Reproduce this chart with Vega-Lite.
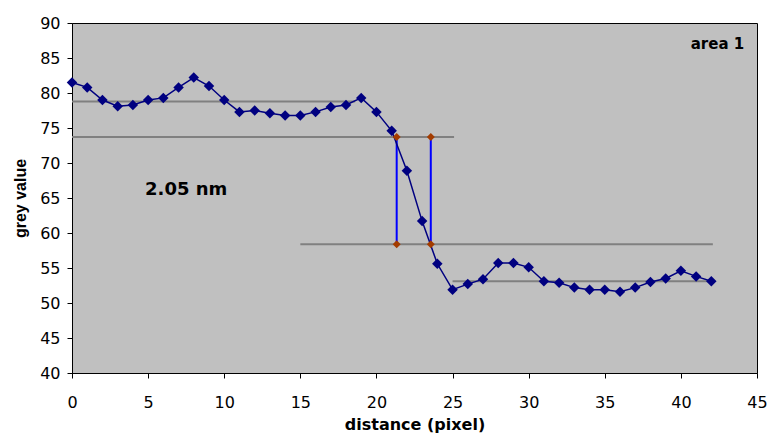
{
  "$schema": "https://vega.github.io/schema/vega-lite/v6.json",
  "width": 685,
  "height": 350,
  "autosize": "none",
  "padding": {"left": 72, "top": 23, "right": 13, "bottom": 64},
  "background": "#FFFFFF",
  "config": {
    "font": "DejaVu Sans",
    "view": {"stroke": "#000000", "strokeWidth": 1, "fill": "#C0C0C0"},
    "axis": {"grid": false, "domainColor": "#000000", "tickColor": "#000000", "labelColor": "#000000", "titleColor": "#000000", "labelFont": "DejaVu Sans", "titleFont": "DejaVu Sans", "labelFontSize": 16, "titleFontSize": 16, "titleFontWeight": "bold", "tickSize": 5, "labelOverlap": false, "labelFlush": false}
  },
  "datasets": {
    "profile": [
      {"x": 0, "y": 81.5}, {"x": 1, "y": 80.8}, {"x": 2, "y": 79.0}, {"x": 3, "y": 78.1},
      {"x": 4, "y": 78.3}, {"x": 5, "y": 79.0}, {"x": 6, "y": 79.3}, {"x": 7, "y": 80.8},
      {"x": 8, "y": 82.2}, {"x": 9, "y": 81.0}, {"x": 10, "y": 79.0}, {"x": 11, "y": 77.3},
      {"x": 12, "y": 77.5}, {"x": 13, "y": 77.1}, {"x": 14, "y": 76.8}, {"x": 15, "y": 76.8},
      {"x": 16, "y": 77.3}, {"x": 17, "y": 78.0}, {"x": 18, "y": 78.3}, {"x": 19, "y": 79.3},
      {"x": 20, "y": 77.3}, {"x": 21, "y": 74.6}, {"x": 22, "y": 68.9}, {"x": 23, "y": 61.7},
      {"x": 24, "y": 55.6}, {"x": 25, "y": 51.9}, {"x": 26, "y": 52.7}, {"x": 27, "y": 53.4},
      {"x": 28, "y": 55.7}, {"x": 29, "y": 55.7}, {"x": 30, "y": 55.1}, {"x": 31, "y": 53.1},
      {"x": 32, "y": 52.9}, {"x": 33, "y": 52.2}, {"x": 34, "y": 51.9}, {"x": 35, "y": 51.9},
      {"x": 36, "y": 51.6}, {"x": 37, "y": 52.2}, {"x": 38, "y": 53.0}, {"x": 39, "y": 53.5},
      {"x": 40, "y": 54.6}, {"x": 41, "y": 53.8}, {"x": 42, "y": 53.1}
    ],
    "levels": [
      {"x": 0, "x2": 18.6, "y": 78.8},
      {"x": 0, "x2": 25.1, "y": 73.7},
      {"x": 15, "x2": 42.1, "y": 58.4},
      {"x": 25, "x2": 42, "y": 53.1}
    ],
    "verticals": [
      {"x": 21.33, "y": 58.4, "y2": 73.7},
      {"x": 23.57, "y": 58.4, "y2": 73.7}
    ],
    "corners": [
      {"x": 21.33, "y": 73.7}, {"x": 23.57, "y": 73.7},
      {"x": 21.33, "y": 58.4}, {"x": 23.57, "y": 58.4}
    ],
    "labels": [
      {"x": 7.5, "y": 66.2, "t": "2.05 nm", "s": 18},
      {"x": 42.4, "y": 87.0, "t": "area 1", "s": 15}
    ]
  },
  "encoding": {
    "x": {"field": "x", "type": "quantitative", "scale": {"domain": [0, 45], "nice": false}, "axis": {"values": [0,5,10,15,20,25,30,35,40,45], "title": "distance (pixel)", "labelPadding": 16, "titlePadding": 6}},
    "y": {"field": "y", "type": "quantitative", "scale": {"domain": [40, 90], "nice": false}, "axis": {"values": [40,45,50,55,60,65,70,75,80,85,90], "tickCount": 11, "title": "grey value", "titleFont": "Liberation Sans", "labelPadding": 7, "titlePadding": 11, "labelOverlap": false}}
  },
  "layer": [
    {
      "data": {"name": "levels"},
      "mark": {"type": "rule", "color": "#808080", "strokeWidth": 2},
      "encoding": {"x2": {"field": "x2"}}
    },
    {
      "data": {"name": "verticals"},
      "mark": {"type": "rule", "color": "#0000FF", "strokeWidth": 2},
      "encoding": {"y2": {"field": "y2"}}
    },
    {
      "data": {"name": "profile"},
      "mark": {"type": "line", "color": "#000080", "strokeWidth": 1.5},
      "encoding": {}
    },
    {
      "data": {"name": "profile"},
      "mark": {"type": "point", "shape": "diamond", "filled": true, "color": "#000080", "size": 110, "opacity": 1},
      "encoding": {}
    },
    {
      "data": {"name": "corners"},
      "mark": {"type": "point", "shape": "diamond", "filled": true, "color": "#A33C00", "size": 64, "opacity": 1},
      "encoding": {}
    },
    {
      "data": {"name": "labels"},
      "mark": {"type": "text", "fontWeight": "bold", "color": "#000000", "align": "center", "baseline": "middle", "font": "DejaVu Sans"},
      "encoding": {
        "text": {"field": "t"},
        "size": {"field": "s", "type": "quantitative", "scale": null, "legend": null}
      }
    }
  ]
}
